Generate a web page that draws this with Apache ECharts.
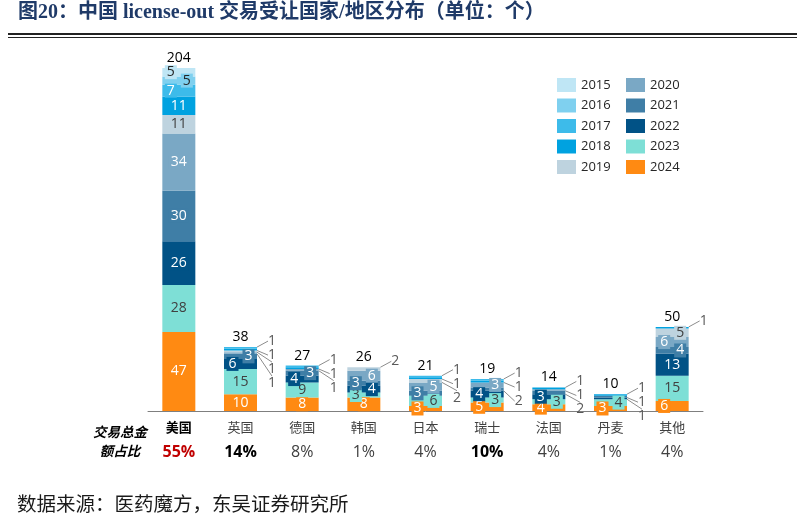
<!DOCTYPE html>
<html><head><meta charset="utf-8">
<script src="https://cdn.jsdelivr.net/npm/echarts@6/dist/echarts.min.js"></script>
<style>html,body{margin:0;padding:0;background:#fff}#c{width:805px;height:521px}</style>
</head><body><div id="c"></div>
<script>
// ---- data ----
const categories = ['美国','英国','德国','韩国','日本','瑞士','法国','丹麦','其他'];
const shares = ['55%','14%','8%','1%','4%','10%','4%','1%','4%'];
const years = ['2015','2016','2017','2018','2019','2020','2021','2022','2023','2024'];
const v2015 = [5,0,0,0,0,0,0,0,0];
const v2016 = [5,0,0,0,0,0,0,0,0];
const v2017 = [7,1,1,0,1,1,0,0,0];
const v2018 = [11,1,1,0,1,1,1,1,1];
const v2019 = [11,1,0,2,2,0,0,0,5];
const v2020 = [34,1,1,6,5,3,1,0,6];
const v2021 = [30,3,3,3,3,2,2,1,4];
const v2022 = [26,6,4,4,0,4,3,1,13];
const v2023 = [28,15,9,3,6,3,3,4,15];
const v2024 = [47,10,8,8,3,5,4,3,6];
const yearValues = [v2015,v2016,v2017,v2018,v2019,v2020,v2021,v2022,v2023,v2024];

// ---- styles ----
const colors = ['#bfe6f5','#7fd0ef','#3dbbea','#00a2e0','#bed3df','#7aa8c5','#3f7ea6','#015286','#7edfd6','#ff8a12'];
const labelColors = ['#262626','#262626','#ffffff','#ffffff','#404040','#ffffff','#ffffff','#ffffff','#404040','#ffffff'];
const shareStyle = ['pr','pb','p','p','p','pb','p','p','p'];
const nameStyle = ['nb','n','n','n','n','n','n','n','n'];
const LEADER_MAX = 2;

const nCat = categories.length;
const totals = categories.map((_, c) => yearValues.reduce((s, arr) => s + arr[c], 0));
// stacking order: 2024 bottom ... 2015 top
const order = years.map((_, i) => i).reverse();

// leader index from top per category
const leaderIdx = yearValues.map(() => new Array(nCat).fill(-1));
for (let c = 0; c < nCat; c++) {
  let k = 0;
  for (let i = 0; i < years.length; i++) { // 2015 (top) first
    const v = yearValues[i][c];
    if (v > 0 && v <= LEADER_MAX) { leaderIdx[i][c] = k++; }
  }
}
// alternating offsets for inside labels on thin segments, from bottom
const insideOffset = yearValues.map(() => new Array(nCat).fill(0));
for (let c = 0; c < nCat; c++) {
  let k = 0;
  for (const i of order) {
    const v = yearValues[i][c];
    if (v > LEADER_MAX && v <= 7) { insideOffset[i][c] = (k % 2 === 0) ? -8 : 8; k++; }
  }
}

const series = order.map(i => ({
  name: years[i],
  type: 'bar',
  stack: 'all',
  barWidth: 33,
  itemStyle: { color: colors[i] },
  data: yearValues[i].map((v, c) => {
    const isLeader = v > 0 && v <= LEADER_MAX;
    return {
      value: v,
      label: v === 0 ? { show: false } : (isLeader ? {
        show: true, position: 'inside', color: '#595959', fontSize: 14
      } : {
        show: true, position: 'inside', color: labelColors[i], fontSize: 14,
        backgroundColor: colors[i], padding: [0, 2]
      }),
      labelLine: { show: isLeader, lineStyle: { color: '#8c8c8c', width: 1 } }
    };
  }),
  labelLayout: function (p) {
    const c = p.dataIndex;
    const v = yearValues[i][c];
    if (!(v > 0 && v <= LEADER_MAX)) return { dx: insideOffset[i][c] };
    let above = 0;
    for (let j = 0; j < i; j++) above += yearValues[j][c];
    const scale = p.rect.height / v;
    const barTop = p.rect.y - above * scale;
    return {
      x: p.rect.x + p.rect.width + 11,
      y: barTop - 6 + leaderIdx[i][c] * 14,
      align: 'left', verticalAlign: 'middle'
    };
  }
}));

series.push({
  name: 'total', type: 'bar', stack: 'all', barWidth: 33,
  itemStyle: { color: 'rgba(0,0,0,0)' },
  data: totals.map(() => 0),
  label: { show: true, position: 'top', distance: 3, color: '#000', fontSize: 14,
    formatter: p => String(totals[p.dataIndex]) }
});

const chart = echarts.init(document.getElementById('c'));
const legendText = { fontSize: 13, color: '#262626', fontFamily: 'Open Sans' };
chart.setOption({
  animation: false,
  textStyle: { fontFamily: "'Open Sans','Noto Sans CJK SC',sans-serif" },
  grid: { left: 148, right: 102, top: 68, bottom: 110 },
  legend: [
    { data: years.slice(0, 5), orient: 'vertical', left: 552, top: 73, itemWidth: 19, itemHeight: 14,
      itemGap: 6.5, icon: 'rect', textStyle: legendText, selectedMode: false },
    { data: years.slice(5), orient: 'vertical', left: 621, top: 73, itemWidth: 19, itemHeight: 14,
      itemGap: 6.5, icon: 'rect', textStyle: legendText, selectedMode: false }
  ],
  xAxis: {
    type: 'category', data: categories,
    axisLine: { lineStyle: { color: '#7f7f7f', width: 1 } },
    axisTick: { show: false },
    axisLabel: {
      margin: 4, interval: 0,
      formatter: (val, idx) => '{' + nameStyle[idx] + '|' + val + '}\n{' + shareStyle[idx] + '|' + shares[idx] + '}',
      rich: {
        n: { fontSize: 13, color: '#404040', lineHeight: 24, fontFamily: 'Noto Sans CJK SC' },
        nb: { fontSize: 13, color: '#000', fontWeight: 'bold', lineHeight: 24, fontFamily: 'Noto Sans CJK SC' },
        p: { fontSize: 16, color: '#404040', lineHeight: 26, fontFamily: 'Open Sans' },
        pb: { fontSize: 16, color: '#000', fontWeight: 'bold', lineHeight: 26, fontFamily: 'Open Sans' },
        pr: { fontSize: 16, color: '#c00000', fontWeight: 'bold', lineHeight: 26, fontFamily: 'Open Sans' }
      }
    }
  },
  yAxis: { type: 'value', min: 0, max: 204, show: false, splitLine: { show: false } },
  graphic: [
    { type: 'text', left: 18, top: 3, style: { text: '图20：中国 license-out 交易受让国家/地区分布（单位：个）',
      fill: '#1f3a68', fontSize: 20, fontWeight: 'bold', fontFamily: "'Liberation Serif','Noto Sans CJK SC',serif" } },
    { type: 'rect', shape: { x: 8, y: 33, width: 789, height: 2 }, style: { fill: '#222' } },
    { type: 'rect', shape: { x: 8, y: 37, width: 789, height: 1 }, style: { fill: '#222' } },
    { type: 'text', x: 120, y: 441, style: { text: '交易总金\n额占比', fill: '#000', fontSize: 13.5, fontWeight: 'bold',
      fontStyle: 'italic', align: 'center', verticalAlign: 'middle', lineHeight: 19, fontFamily: 'Noto Sans CJK SC' } },
    { type: 'text', left: 17, top: 494, style: { text: '数据来源：医药魔方，东吴证券研究所',
      fill: '#1a1a1a', fontSize: 19.5, fontFamily: "'Noto Sans CJK SC',serif" } }
  ],
  series: series
});
</script></body></html>
